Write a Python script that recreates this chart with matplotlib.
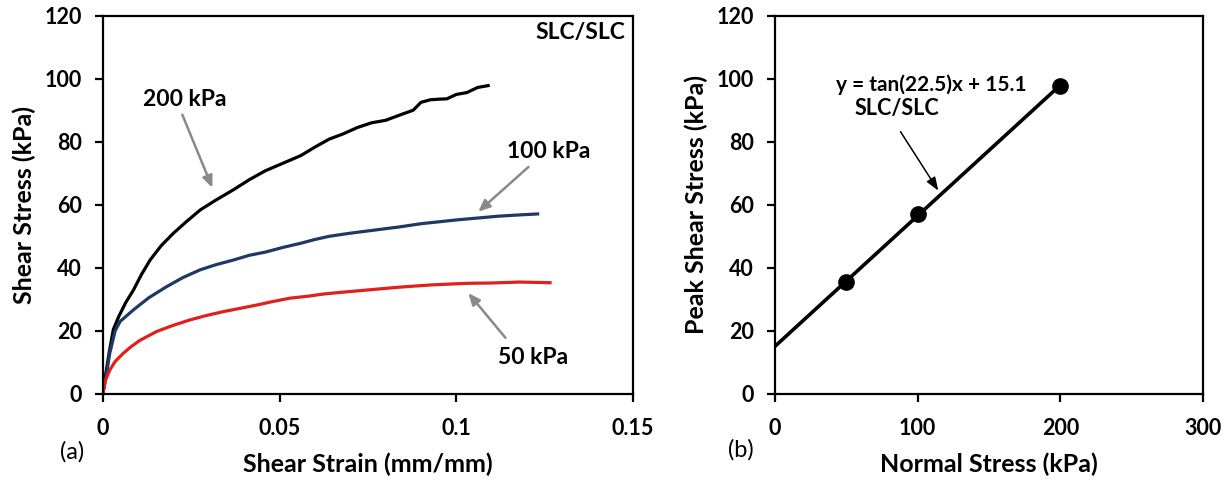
import matplotlib
matplotlib.use("Agg")
import matplotlib.pyplot as plt
import numpy as np

plt.rcParams['font.family'] = ['Lato', 'DejaVu Sans']

# ---- data ----
strain_200 = [0, 0.0008, 0.0018, 0.003, 0.0045, 0.0065, 0.0087, 0.011, 0.0134, 0.0165,
              0.020, 0.0235, 0.0276, 0.032, 0.037, 0.0415, 0.046, 0.051, 0.056, 0.060,
              0.064, 0.068, 0.072, 0.076, 0.080, 0.0841, 0.0878, 0.090, 0.0926, 0.095,
              0.0973, 0.100, 0.103, 0.106, 0.109]
stress_200 = [0, 6, 13, 20.5, 24.5, 29, 33, 38, 42.5, 47,
              51, 54.5, 58.4, 61.5, 64.8, 68, 70.8, 73.2, 75.6, 78.3,
              80.8, 82.5, 84.5, 86, 86.8, 88.5, 90, 92.5, 93.3, 93.5,
              93.6, 95, 95.6, 97.2, 97.8]

strain_100 = [0, 0.001, 0.002, 0.0035, 0.0049, 0.0087, 0.013, 0.018, 0.0228, 0.0276,
              0.032, 0.037, 0.0415, 0.046, 0.051, 0.056, 0.060, 0.064, 0.070, 0.077,
              0.084, 0.090, 0.095, 0.100, 0.106, 0.112, 0.118, 0.123]
stress_100 = [0, 6, 13, 20, 23, 26.7, 30.5, 34, 37, 39.4,
              41, 42.5, 44, 45, 46.5, 47.8, 49, 50, 51, 52,
              53, 54, 54.6, 55.2, 55.8, 56.4, 56.8, 57.1]

strain_50 = [0, 0.0008, 0.002, 0.0035, 0.0058, 0.008, 0.0105, 0.0152, 0.020, 0.0247,
             0.029, 0.034, 0.039, 0.0435, 0.048, 0.053, 0.058, 0.0624, 0.067, 0.075,
             0.0841, 0.093, 0.103, 0.110, 0.118, 0.1265]
stress_50 = [0, 4.5, 7.6, 10.3, 12.9, 15, 17, 19.8, 21.8, 23.5,
             24.8, 26.1, 27.2, 28.2, 29.3, 30.4, 31, 31.7, 32.2, 33,
             33.9, 34.6, 35.1, 35.2, 35.5, 35.3]

normal_stress = [50, 100, 200]
peak_shear = [35.5, 57.1, 97.8]
phi_deg = 22.5
cohesion = 15.1

TICK_FS = 15.5
LABEL_FS = 18
NOTE_FS = 16.5
ARROW_GRAY = "#8c878b"


def style_axes(ax):
    for s in ax.spines.values():
        s.set_linewidth(1.6)
    ax.tick_params(direction="out", length=6, width=1.6, labelsize=TICK_FS)
    ax.tick_params(axis="y", pad=9)
    ax.tick_params(axis="x", pad=11)
    for lbl in ax.get_xticklabels() + ax.get_yticklabels():
        lbl.set_fontweight("bold")


fig = plt.figure(figsize=(12.32, 4.82), dpi=100)
ax1 = fig.add_axes([0.0834, 0.1826, 0.4305, 0.785])
ax2 = fig.add_axes([0.629, 0.1826, 0.3474, 0.785])

# (a) stress-strain curves
ax1.plot(strain_200, stress_200, color="black", lw=2.3)
ax1.plot(strain_100, stress_100, color="#1f3864", lw=2.3)
ax1.plot(strain_50, stress_50, color="#e0201b", lw=2.3)

ax1.set_xlim(0, 0.15)
ax1.set_ylim(0, 120)
ax1.set_xticks([0, 0.05, 0.1, 0.15])
ax1.set_xticklabels(["0", "0.05", "0.1", "0.15"])
ax1.set_yticks(range(0, 121, 20))
style_axes(ax1)
ax1.set_xlabel("Shear Strain (mm/mm)", fontsize=LABEL_FS, fontweight="bold", labelpad=10)
ax1.set_ylabel("Shear Stress (kPa)", fontsize=LABEL_FS, fontweight="bold", labelpad=6)

arrow = dict(arrowstyle="-|>,head_length=0.7,head_width=0.3", color=ARROW_GRAY, lw=1.8,
             shrinkA=0, shrinkB=0)
ax1.annotate("", xy=(0.031, 65.4), xytext=(0.0225, 88.6), arrowprops=arrow)
ax1.text(0.0233, 93.3, "200 kPa", fontsize=NOTE_FS, fontweight="bold", ha="center", va="center")
ax1.annotate("", xy=(0.1062, 57.8), xytext=(0.1204, 72), arrowprops=arrow)
ax1.text(0.126, 76.8, "100 kPa", fontsize=NOTE_FS, fontweight="bold", ha="center", va="center")
ax1.annotate("", xy=(0.1034, 32), xytext=(0.1139, 17.8), arrowprops=arrow)
ax1.text(0.1217, 11.7, "50 kPa", fontsize=NOTE_FS, fontweight="bold", ha="center", va="center")
ax1.text(0.1478, 114.6, "SLC/SLC", fontsize=NOTE_FS, fontweight="bold", ha="right", va="center")

# (b) failure envelope
x_fit = np.array([0, 200])
y_fit = np.tan(np.radians(phi_deg)) * x_fit + cohesion
ax2.plot(x_fit, y_fit, color="black", lw=2.6)
ax2.plot(normal_stress, peak_shear, "o", color="black", markersize=11)

ax2.set_xlim(0, 300)
ax2.set_ylim(0, 120)
ax2.set_xticks([0, 100, 200, 300])
ax2.set_yticks(range(0, 121, 20))
style_axes(ax2)
ax2.set_xlabel("Normal Stress (kPa)", fontsize=LABEL_FS, fontweight="bold", labelpad=10)
ax2.set_ylabel("Peak Shear Stress (kPa)", fontsize=LABEL_FS, fontweight="bold", labelpad=6)

ax2.text(109.3, 98, "y = tan(22.5)x + 15.1", fontsize=15, fontweight="bold", ha="center", va="center")
ax2.text(85.5, 90.7, "SLC/SLC", fontsize=15.5, fontweight="bold", ha="center", va="center")
ax2.annotate("", xy=(114.5, 64.5), xytext=(88, 83.2),
             arrowprops=dict(arrowstyle="-|>,head_length=0.8,head_width=0.3", color="black",
                             lw=1.1, shrinkA=0, shrinkB=0))

fig.text(72 / 1232, 1 - 452 / 482, "(a)", fontsize=17, ha="center", va="center")
fig.text(741 / 1232, 1 - 450 / 482, "(b)", fontsize=17, ha="center", va="center")

fig.savefig("out.png", dpi=100)
